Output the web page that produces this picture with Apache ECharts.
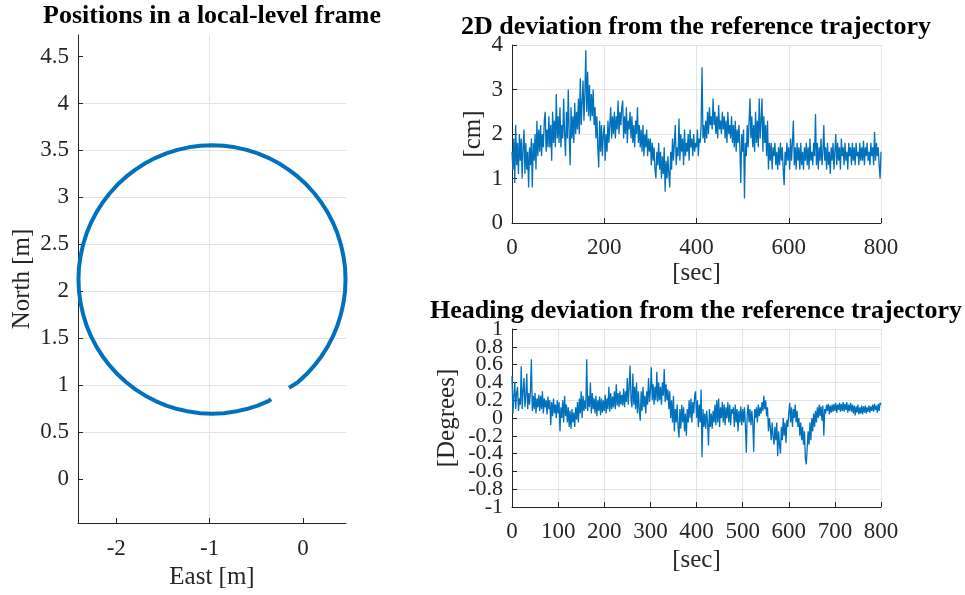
<!DOCTYPE html>
<html>
<head>
<meta charset="utf-8">
<script src="https://cdn.jsdelivr.net/npm/echarts@6/dist/echarts.min.js"></script>
<style>html,body{margin:0;padding:0;background:#fff}#c{width:965px;height:595px}</style>
</head>
<body>
<div id="c"></div>
<script>
// ---- Panel 1: positions ----
const circleEast = [-0.150,-0.056,0.036,0.120,0.196,0.263,0.321,0.369,0.406,0.433,0.450,0.455,0.450,0.433,0.406,0.369,0.321,0.263,0.196,0.120,0.036,-0.056,-0.155,-0.260,-0.371,-0.486,-0.605,-0.727,-0.850,-0.975,-1.100,-1.223,-1.345,-1.464,-1.579,-1.690,-1.795,-1.894,-1.986,-2.070,-2.146,-2.213,-2.271,-2.319,-2.356,-2.383,-2.400,-2.405,-2.400,-2.383,-2.356,-2.319,-2.271,-2.213,-2.146,-2.070,-1.986,-1.894,-1.795,-1.690,-1.579,-1.464,-1.345,-1.223,-1.100,-0.975,-0.850,-0.727,-0.605,-0.486,-0.371,-0.342];
const circleNorth = [0.970,1.030,1.114,1.206,1.305,1.410,1.521,1.636,1.755,1.877,2.000,2.125,2.250,2.373,2.495,2.614,2.729,2.840,2.945,3.044,3.136,3.220,3.296,3.363,3.421,3.469,3.506,3.533,3.550,3.555,3.550,3.533,3.506,3.469,3.421,3.363,3.296,3.220,3.136,3.044,2.945,2.840,2.729,2.614,2.495,2.373,2.250,2.125,2.000,1.877,1.755,1.636,1.521,1.410,1.305,1.206,1.114,1.030,0.954,0.887,0.829,0.781,0.744,0.717,0.700,0.695,0.700,0.717,0.744,0.781,0.829,0.850];
const eastTicks = [-2,-1,0];
const northTicks = [0,0.5,1,1.5,2,2.5,3,3.5,4,4.5];

// ---- Panels 2 and 3: one sample every 2 s, t = 0 ... 800 s ----
const sampleStepSec = 2;
// 2D deviation [cm]
const dev2D = [
1.6,1.2,1.9,0.9,2.2,1.3,1.8,1.1,2.0,1.4, 1.9,1.0,1.7,2.1,1.1,1.8,1.2,1.6,0.8,1.7,
1.3,1.9,0.8,1.8,1.4,2.0,1.2,2.3,1.5,2.1, 1.6,2.2,1.5,2.0,1.7,2.3,2.5,1.6,2.1,1.7,
2.4,1.7,2.2,1.4,2.5,1.8,2.3,1.7,2.9,1.9, 2.4,1.8,2.6,1.7,2.2,1.9,2.8,2.0,1.5,2.5,
1.9,3.0,2.0,1.3,2.6,1.9,2.4,1.8,2.7,2.0, 2.5,2.1,2.8,2.0,3.25,2.2,2.7,3.2,2.3,2.9,
3.88,2.5,3.4,2.4,3.1,2.3,2.9,2.4,3.0,2.2, 2.6,1.9,2.4,1.7,1.25,2.3,1.6,2.2,1.5,2.0,
2.2,1.4,2.0,1.6,2.3,1.8,2.2,2.6,1.9,2.4, 2.0,2.5,1.9,2.4,2.1,2.75,2.0,2.5,2.2,2.6,
2.75,1.9,2.4,2.0,2.6,1.8,2.3,2.1,2.5,1.9, 2.4,1.8,2.2,1.7,2.3,2.0,2.6,1.8,2.2,1.7,
2.1,1.6,2.2,1.5,2.0,1.7,2.1,1.5,1.9,1.6, 1.9,1.3,1.8,1.4,1.7,1.2,1.0,1.6,1.3,1.8,
1.2,1.6,1.0,1.5,1.1,1.7,0.7,1.4,1.0,1.5, 1.1,0.8,1.6,1.2,1.9,1.4,1.8,2.2,1.3,1.7,
1.5,2.35,1.4,2.0,1.6,1.9,1.3,2.1,1.5,1.8, 1.6,2.0,1.4,2.1,1.7,1.9,1.5,2.0,1.6,1.8,
1.7,2.1,1.5,1.9,1.8,2.2,3.5,1.9,2.2,1.8, 2.3,1.9,2.5,2.0,2.6,2.2,2.4,2.1,2.8,2.2,
2.5,2.0,2.4,1.9,2.65,2.1,2.3,2.0,2.5,2.1, 2.4,1.9,2.3,1.8,2.5,2.0,2.2,1.9,2.4,1.8,
2.2,1.7,2.3,1.6,2.1,1.8,2.2,1.7,0.9,2.0, 1.6,2.1,0.55,1.8,1.5,2.2,1.7,2.3,2.8,1.9,
2.4,1.7,2.2,1.6,2.5,1.8,2.3,1.7,2.8,1.9, 2.3,2.8,1.6,2.4,1.8,2.2,1.5,2.3,1.2,1.8,
1.4,1.8,1.2,1.7,1.5,1.8,1.3,1.6,1.2,1.7, 1.3,1.8,1.4,1.7,1.2,0.85,1.6,1.3,1.8,1.4,
1.7,1.2,1.9,1.4,1.8,2.3,1.3,1.7,1.2,1.8, 1.4,1.7,1.2,1.8,1.3,1.6,1.2,1.7,1.4,1.8,
1.3,1.7,1.2,1.9,1.4,1.6,1.3,1.8,1.5,2.45, 1.3,1.8,1.2,1.7,1.4,1.9,1.3,1.6,2.2,1.4,
1.7,1.2,1.8,1.3,1.6,1.1,1.7,1.4,1.8,1.2, 1.6,2.0,1.3,1.8,1.4,1.7,1.2,1.9,1.5,1.7,
1.3,1.8,1.4,1.6,1.2,1.8,1.5,1.7,1.3,1.8, 1.4,1.7,1.3,1.8,1.5,1.6,1.3,1.8,1.4,1.7,
1.4,1.85,1.3,1.7,1.5,1.8,1.4,1.6,1.3,1.8, 1.5,1.7,1.3,2.05,1.4,1.8,1.5,1.7,1.3,1.0,
1.6];
// Heading deviation [deg]
const devHeading = [
0.47,0.05,0.25,0.4,0.1,0.28,0.35,0.08,0.22,0.15, 0.58,0.1,0.3,0.45,0.12,0.25,0.5,0.1,0.28,0.15,
0.3,0.66,0.08,0.25,0.1,0.28,0.05,0.22,0.12,0.26, 0.08,0.25,0.1,0.3,0.05,0.22,0.12,0.2,0.04,0.24,
0.1,0.2,-0.08,0.18,0.02,0.22,0.05,0.15,0.0,0.2, 0.05,0.18,-0.15,0.12,0.0,0.2,-0.05,0.25,0.02,0.15,
-0.05,0.12,-0.1,0.08,-0.12,0.1,-0.05,0.06,-0.1,0.12, -0.02,0.18,-0.05,0.22,0.05,0.3,0.0,0.25,0.08,0.2,
0.1,0.66,0.08,0.25,0.12,0.4,0.05,0.28,0.1,0.22, 0.05,0.25,0.02,0.2,0.08,0.24,0.03,0.22,0.06,0.2,
0.08,0.26,0.05,0.22,0.1,0.35,0.07,0.28,0.1,0.24, 0.12,0.3,0.1,0.38,0.14,0.28,0.12,0.3,0.15,0.26,
0.14,0.33,0.12,0.3,0.18,0.45,0.15,0.35,0.59,0.2, 0.12,0.5,0.15,0.35,0.1,0.4,0.05,0.3,0.1,-0.03,
0.3,0.08,0.35,0.12,0.25,0.05,0.3,0.15,0.45,0.18, 0.3,0.57,0.2,0.38,0.15,0.35,0.2,0.52,0.18,0.4,
0.2,0.35,0.15,0.4,0.25,0.55,0.18,0.38,0.2,0.32, 0.1,0.3,0.0,0.2,-0.05,0.25,-0.15,0.1,-0.05,0.15,
-0.1,-0.22,0.1,-0.12,0.15,-0.05,0.12,-0.15,0.05,-0.2, 0.1,-0.05,0.2,0.0,0.22,-0.05,0.18,0.05,0.25,0.3,
0.0,0.2,-0.1,0.15,-0.05,0.32,-0.44,0.1,-0.1,0.05, -0.12,0.08,-0.05,-0.31,0.1,-0.1,0.05,-0.12,0.08,-0.05,
0.15,-0.08,0.2,-0.05,0.22,-0.1,0.12,0.0,0.18,-0.05, 0.15,-0.08,0.12,0.0,0.18,-0.05,0.15,-0.08,0.1,0.05,
0.12,-0.1,0.15,-0.05,0.1,-0.15,0.08,-0.05,0.13,-0.08, 0.1,-0.05,0.12,-0.08,-0.39,0.05,0.15,-0.05,0.1,-0.08,
0.08,-0.05,-0.38,0.1,0.0,0.12,-0.05,0.15,0.02,0.12, 0.05,0.18,0.08,0.25,0.1,0.2,0.02,0.12,-0.15,0.0,
-0.1,-0.25,-0.05,-0.2,-0.3,-0.1,-0.25,-0.05,-0.43,-0.15, -0.3,-0.4,-0.1,-0.25,0.0,-0.2,-0.05,-0.28,-0.02,-0.1,
0.05,0.17,-0.05,0.12,-0.1,0.1,0.0,0.15,-0.05,0.08, -0.1,0.0,-0.2,-0.05,-0.25,-0.1,-0.3,-0.15,-0.45,-0.52,
-0.5,-0.15,-0.3,-0.05,-0.25,0.0,-0.15,0.05,-0.1,0.08, -0.05,0.12,0.0,0.15,0.02,0.13,-0.03,0.14,-0.2,0.1,
0.05,0.15,0.08,0.16,0.04,0.14,0.06,0.15,0.07,0.16, 0.08,0.17,0.06,0.15,0.09,0.17,0.07,0.16,0.08,0.18,
0.07,0.16,0.09,0.18,0.06,0.15,0.08,0.17,0.07,0.15, 0.05,0.14,0.03,0.13,0.06,0.15,0.04,0.12,0.05,0.14,
0.04,0.13,0.06,0.14,0.05,0.12,0.07,0.14,0.06,0.13, 0.08,0.15,0.07,0.16,0.09,0.14,0.06,0.16,0.08,0.17,
0.15];
const devTicks = [0,1,2,3,4];
// heading tick labels, split in two alternating sets so that none of them is dropped
const headingTicksA = [-1,-0.6,-0.2,0.2,0.6,1];
const headingTicksB = [-0.8,-0.4,0,0.4,0.8];

// ---- build ----
const timeSec = dev2D.map((_, i) => i * sampleStepSec);
const circleData = circleEast.map((e, i) => [e, circleNorth[i]]);
const dev2DData = dev2D.map((v, i) => [timeSec[i], v]);
const headingData = devHeading.map((v, i) => [timeSec[i], v]);

const FONT = '"Liberation Serif", "Times New Roman", serif';
const AX = '#262626';
const GRID = '#e3e3e3';
const BLUE = '#0072BD';
const TICK = 23, NAME = 25;

function fmt(v){ const r = Math.round(v*10)/10; return String(r); }

function valAxis(o, extraLabel, extraTick, extraSplit){
  return Object.assign({
    type: 'value',
    axisLine: {show: true, onZero: false, lineStyle: {color: AX, width: 1}},
    axisTick: Object.assign({show: true, inside: true, length: 5, lineStyle: {color: AX}}, extraTick || {}),
    axisLabel: Object.assign({color: AX, fontFamily: FONT, fontSize: TICK, formatter: fmt, showMinLabel: true, showMaxLabel: true, hideOverlap: false}, extraLabel || {}),
    splitLine: Object.assign({show: true, lineStyle: {color: GRID, width: 1}}, extraSplit || {}),
    nameLocation: 'middle',
    nameTextStyle: {color: AX, fontFamily: FONT, fontSize: NAME}
  }, o);
}

const chart = echarts.init(document.getElementById('c'), null, {renderer: 'canvas'});
chart.setOption({
  animation: false,
  backgroundColor: '#fff',
  grid: [
    {left: 78, top: 35, width: 268, height: 488},
    {left: 512, top: 45, width: 369, height: 178},
    {left: 512, top: 329, width: 369, height: 178}
  ],
  xAxis: [
    valAxis({gridIndex: 0, min: -2.41, max: 0.46, name: 'East [m]', nameGap: 41},
      {margin: 14, customValues: eastTicks}, {customValues: eastTicks}, {showMinLine: false, showMaxLine: false}),
    valAxis({gridIndex: 1, min: 0, max: 800, interval: 200, name: '[sec]', nameGap: 38},
      {margin: 13}),
    valAxis({gridIndex: 2, min: 0, max: 800, interval: 100, name: '[sec]', nameGap: 41},
      {margin: 13})
  ],
  yAxis: [
    valAxis({gridIndex: 0, min: -0.47, max: 4.73, name: 'North [m]', nameGap: 43},
      {margin: 9, customValues: northTicks}, {customValues: northTicks}, {showMinLine: false, showMaxLine: false}),
    valAxis({gridIndex: 1, min: 0, max: 4, interval: 1, name: '[cm]', nameGap: 26},
      {margin: 9, customValues: devTicks}),
    valAxis({gridIndex: 2, min: -1, max: 1, interval: 0.2, name: '[Degrees]', nameGap: 52},
      {margin: 9, customValues: headingTicksA, fontSize: 22}),
    valAxis({gridIndex: 2, min: -1, max: 1, position: 'left', offset: 0,
      axisLine: {show: false, onZero: false}, axisTick: {show: false}, splitLine: {show: false}},
      {margin: 9, customValues: headingTicksB, fontSize: 22})
  ],
  graphic: [
    {type: 'text', x: 212, y: 16, style: {text: 'Positions in a local-level frame', font: 'bold 26px ' + FONT, fill: '#000', textAlign: 'center', textVerticalAlign: 'middle'}},
    {type: 'text', x: 696, y: 27, style: {text: '2D deviation from the reference trajectory', font: 'bold 26px ' + FONT, fill: '#000', textAlign: 'center', textVerticalAlign: 'middle'}},
    {type: 'text', x: 696, y: 311, style: {text: 'Heading deviation from the reference trajectory', font: 'bold 26px ' + FONT, fill: '#000', textAlign: 'center', textVerticalAlign: 'middle'}}
  ],
  series: [
    {type: 'line', xAxisIndex: 0, yAxisIndex: 0, data: circleData, showSymbol: false, lineStyle: {color: BLUE, width: 4}, clip: false},
    {type: 'line', xAxisIndex: 1, yAxisIndex: 1, data: dev2DData, showSymbol: false, lineStyle: {color: BLUE, width: 1.3}},
    {type: 'line', xAxisIndex: 2, yAxisIndex: 2, data: headingData, showSymbol: false, lineStyle: {color: BLUE, width: 1.3}}
  ]
});
</script>
</body>
</html>
